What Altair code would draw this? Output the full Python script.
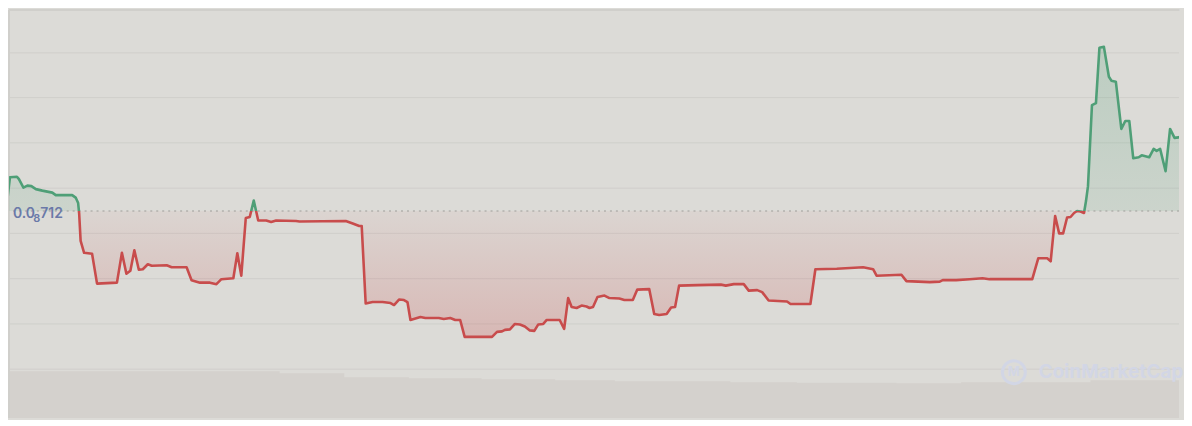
import altair as alt
import pandas as pd

# price in units of 1e-12 USD (0.0_8 712 = 7.12e-9 = 7120e-12)
BASE = 7120
T = [5, 9, 16, 18, 22.5, 26.5, 30.5, 35, 41.5, 46.5, 51.5, 55, 71.5, 75, 77.5, 78.5, 80, 83.5, 91.5,
     96.5, 116.5, 121.5, 126, 130, 134, 138.5, 142.5, 147.5, 151.5, 166.5, 171.5, 186.5, 191.5, 196.5,
     200, 210, 216.5, 221.5, 233.5, 237.5, 241.5, 246, 250, 254, 258.5, 266.5, 271.5, 276.5, 296.5, 300,
     346.5, 353.5, 360, 362.5, 366.5, 373.5, 383.5, 391.5, 395, 400, 405, 408.5, 411.5, 421.5, 426.5, 440,
     445, 451.5, 456.5, 461.5, 466, 493.5, 498.5, 503.5, 506.5, 511.5, 516.5, 521.5, 526.5, 531.5, 536,
     540, 545, 548.5, 561.5, 566, 570, 573.5, 578.5, 583.5, 588.5, 591.5, 595, 599.5, 606.5, 611.5, 621.5,
     626.5, 635, 639.5, 651.5, 656.5, 661.5, 669, 673.5, 677.5, 681.5, 700, 723.5, 728.5, 736.5, 746.5,
     751.5, 760, 765, 771.5, 790, 793.5, 813.5, 818.5, 840, 866.5, 876.5, 880, 905, 910, 933.5, 943.5,
     946.5, 960, 973.5, 986.5, 993.5, 1036.5, 1042.5, 1051.5, 1055, 1059.5, 1063.5, 1067.5, 1071.5, 1075,
     1078.5, 1081.5, 1085, 1088.5, 1090.5, 1092.5, 1096.5, 1100.5, 1104, 1108.5, 1113.5, 1116, 1120.5,
     1126, 1130, 1134, 1138, 1143.5, 1146.5, 1154, 1158.5, 1161.5, 1165, 1170.5, 1175, 1179.5, 1183.5,
     1188, 1192]
PRICE = [7120, 7154, 7154.5, 7152, 7143.5, 7145.5, 7145, 7142, 7140.5, 7139.5, 7138.5, 7136, 7136, 7133.5,
         7128, 7118, 7090, 7078, 7077, 7047, 7048, 7078, 7057, 7060, 7080.5, 7061, 7061.5, 7066.5, 7065,
         7065.5, 7063.5, 7063.5, 7050.5, 7049, 7048, 7048, 7046.5, 7051.5, 7052.5, 7077.5, 7055, 7113,
         7114, 7130.5, 7110.5, 7110.5, 7109, 7110.5, 7110, 7109.5, 7110, 7107.5, 7105, 7105, 7027, 7028.5,
         7028.5, 7027.5, 7025.5, 7031, 7030.5, 7028.5, 7010.5, 7013.5, 7012.5, 7012.5, 7011.5, 7012.5,
         7010.5, 7010.5, 6993.5, 6993.5, 6998.5, 6999, 7000.5, 7001, 7006.5, 7006, 7004, 7000, 6999.5,
         7006, 7006.5, 7010.5, 7010.5, 7001.5, 7032.5, 7023.5, 7022.5, 7025, 7024, 7022.5, 7023.5, 7033.5,
         7035, 7032.5, 7032, 7030.5, 7030.5, 7041, 7041.5, 7016.5, 7015.5, 7016.5, 7023, 7023.5, 7045,
         7045.5, 7046, 7045, 7046.5, 7046.5, 7040, 7040.5, 7038.5, 7030, 7029, 7026.5, 7026.5, 7061.5,
         7062, 7063.5, 7061.5, 7055, 7056, 7049.5, 7048.5, 7049, 7050.5, 7050.5, 7051.5, 7052.5, 7051.5,
         7051.5, 7072.5, 7072.5, 7069.5, 7115, 7097.5, 7097.5, 7113.5, 7114, 7118, 7120, 7119.5, 7118,
         7130, 7145, 7226.5, 7228.5, 7284, 7285, 7255, 7251, 7250, 7202.5, 7210.5, 7210.5, 7173, 7174,
         7176, 7174, 7182.5, 7180.5, 7182.5, 7160, 7202.5, 7193.5, 7194, 7196.5, 7190]

VOL_T = [5, 280, 345, 410, 483, 557, 617, 733, 800, 900, 965, 1095, 1192]
VOL = [55, 53, 49, 48, 47, 46, 45, 44, 43.5, 43, 44, 46, 46]

GRID = [7279, 7234, 7188.5, 7143, 7097.5, 7052, 7006.5, 6961]

W, H = 1176, 410
BG = "#dcdbd7"
GREEN = "#4f9f77"
RED = "#c84c4c"
GRIDC = "#d0cfcb"

price_df = pd.DataFrame({"t": T, "price": PRICE})
vol_df = pd.DataFrame({"t": VOL_T, "vol": VOL})
grid_df = pd.DataFrame({"g": GRID})

vmax, vmin = max(PRICE), min(PRICE)
f = (vmax - BASE) / (vmax - vmin)

xs = alt.Scale(domain=[8, 1184], nice=False, zero=False)
ys = alt.Scale(domain=[6912, 7322], nice=False, zero=False)

line_grad = alt.Gradient(
    gradient="linear", x1=0, x2=0, y1=0, y2=1,
    stops=[alt.GradientStop(offset=0, color=GREEN),
           alt.GradientStop(offset=f, color=GREEN),
           alt.GradientStop(offset=f, color=RED),
           alt.GradientStop(offset=1, color=RED)])
fill_grad = alt.Gradient(
    gradient="linear", x1=0, x2=0, y1=0, y2=1,
    stops=[alt.GradientStop(offset=0, color="rgba(60,150,105,0.20)"),
           alt.GradientStop(offset=f, color="rgba(60,150,105,0.10)"),
           alt.GradientStop(offset=f, color="rgba(200,60,60,0.04)"),
           alt.GradientStop(offset=1, color="rgba(200,60,60,0.22)")])

X = alt.X("t:Q", scale=xs, axis=None)
Y = alt.Y("price:Q", scale=ys, axis=None)

volume = alt.Chart(vol_df).mark_area(interpolate="step-after", color="#d4d1cd", clip=True).encode(
    x=X, y=alt.Y("vol:Q", scale=alt.Scale(domain=[8, 418], nice=False, zero=False), axis=None),
    y2=alt.datum(8))

grid = alt.Chart(grid_df).mark_rule(color=GRIDC, strokeWidth=1).encode(
    y=alt.Y("g:Q", scale=ys, axis=None))

top_border = alt.Chart(grid_df).mark_rule(color=GRIDC, strokeWidth=2).encode(
    y=alt.value(0), x=alt.value(0), x2=alt.value(W))
left_border = alt.Chart(grid_df).mark_rule(color=GRIDC, strokeWidth=2).encode(
    x=alt.value(0), y=alt.value(0), y2=alt.value(H))

area = alt.Chart(price_df).mark_area(fill=fill_grad, clip=True).encode(
    x=X, y=Y, y2=alt.datum(BASE))

base_rule = alt.Chart(pd.DataFrame({"b": [BASE]})).mark_rule(
    color="#9e9d99", strokeDash=[2, 4], strokeWidth=1.2).encode(
    y=alt.Y("b:Q", scale=ys, axis=None))

line = alt.Chart(price_df).mark_line(stroke=line_grad, strokeWidth=2.6, clip=True,
                                     strokeJoin="round").encode(x=X, y=Y)

lab_df = pd.DataFrame({"t": [12], "price": [BASE]})
lab_color = "#6a79a8"
lab1 = alt.Chart(lab_df).mark_text(text="0.0", align="left", baseline="middle", font="Inter",
                                   fontSize=14, fontWeight=600, color=lab_color, dy=3).encode(x=X, y=Y)
lab2 = alt.Chart(lab_df).mark_text(text="8", align="left", baseline="middle", font="Inter",
                                   fontSize=11, fontWeight=600, color=lab_color, dx=20.5, dy=8).encode(x=X, y=Y)
lab3 = alt.Chart(lab_df).mark_text(text="712", align="left", baseline="middle", font="Inter",
                                   fontSize=14, fontWeight=600, color=lab_color, dx=27.5, dy=3).encode(x=X, y=Y)

wm_df = pd.DataFrame({"t": [1018], "price": [6958]})
wm_txt_df = pd.DataFrame({"t": [1043], "price": [6958]})
WM = "#d2d6e5"
wm_logo = alt.Chart(wm_df).mark_point(shape="circle", size=530, filled=False, stroke=WM,
                                      strokeWidth=3, opacity=1).encode(x=X, y=Y)
wm_m = alt.Chart(wm_df).mark_text(text="M", fontSize=13, fontWeight="bold", font="Inter",
                                  color=WM, baseline="middle").encode(x=X, y=Y)
wm_text = alt.Chart(wm_txt_df).mark_text(text="CoinMarketCap", align="left", baseline="middle",
                                         font="Inter", fontSize=19, fontWeight="bold",
                                         color=WM).encode(x=X, y=Y)

chart = alt.layer(volume, grid, top_border, left_border, area, base_rule, line, lab1, lab2, lab3,
                  wm_logo, wm_m, wm_text).resolve_scale(
    y="independent").properties(width=W, height=H, background=BG, padding=0).configure_view(strokeWidth=0)

chart.save("out.html", embed_options={"renderer": "svg", "actions": False})
